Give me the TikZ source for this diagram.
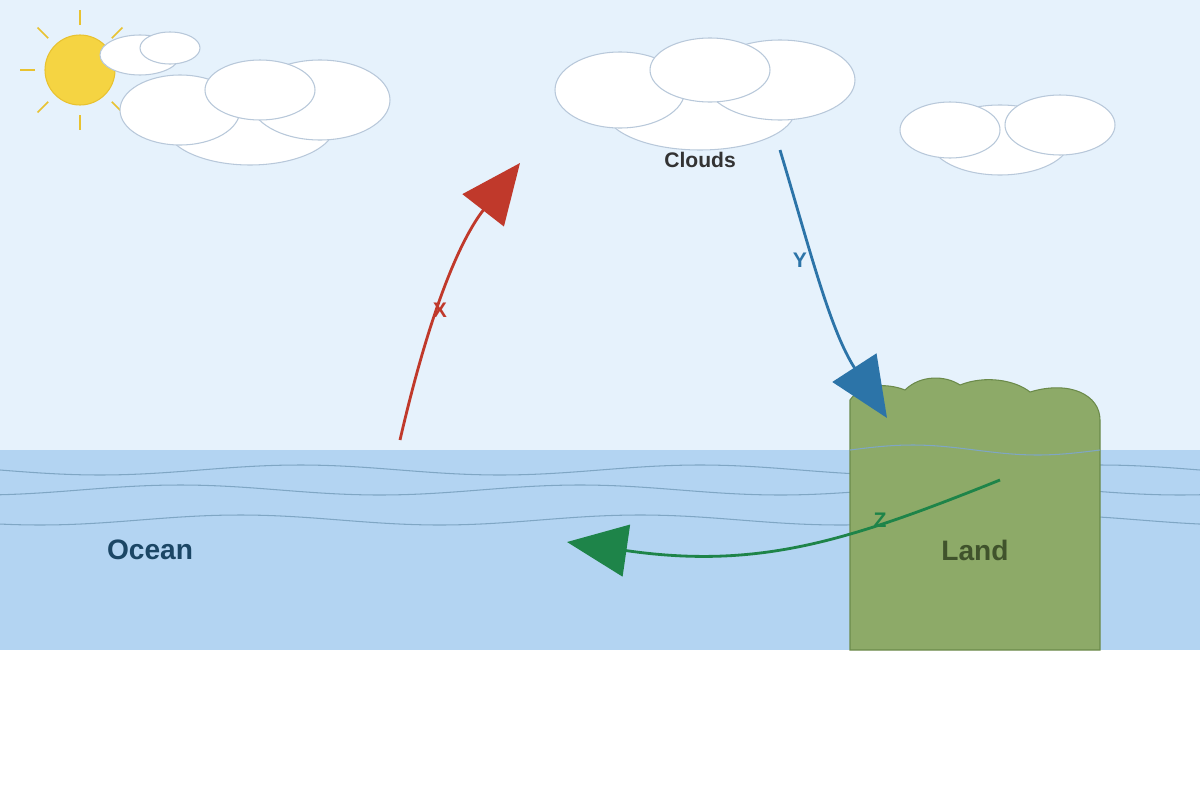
\documentclass[tikz,border=0pt]{standalone}
\usepackage{fontspec}
\setmainfont{Liberation Sans}
\usetikzlibrary{arrows.meta}
\definecolor{sky}{HTML}{E6F2FC}
\definecolor{sea}{HTML}{B3D4F2}
\definecolor{wave}{HTML}{7FA6C4}
\definecolor{sunfill}{HTML}{F5D442}
\definecolor{sunline}{HTML}{E8C230}
\definecolor{cloudline}{HTML}{B8C8DA}
\definecolor{landfill}{HTML}{8DAA68}
\definecolor{landline}{HTML}{6B8A4A}
\definecolor{xred}{HTML}{C0392B}
\definecolor{yblue}{HTML}{2C74A8}
\definecolor{zgreen}{HTML}{1E8449}
\tikzset{
  cloud/.style={fill=white,draw=cloudline,line width=1.5pt},
  flow/.style={line width=4pt,-{Triangle[length=3cm,width=2.6cm]}},
  lbl/.style={font=\bfseries\fontsize{40}{40}\selectfont},
  wavy/.style={draw=wave,line width=1.5pt}
}
\begin{document}
\begin{tikzpicture}[x=0.05cm,y=-0.05cm]
	\useasboundingbox (0,0) rectangle (1200,800);
	% background
	\fill[sky] (0,0) rectangle (1200,450);
	\fill[sea] (0,450) rectangle (1200,650);
	
	% waves
	\foreach \y/\s in {470/0,490/120,520/60}
	{
		\draw[wavy] plot[domain=0:1200,samples=120] (\x,{\y+5*sin((\x+\s)*0.9)});
	}
	
	% sun
	\foreach \a in {90,135,180,225,270,45,-45}
	{
		\draw[sunline,line width=2.5pt] ({80+45*cos(\a)},{70-45*sin(\a)}) -- ({80+60*cos(\a)},{70-60*sin(\a)});
	}
	\draw[fill=sunfill,draw=sunline,line width=1.5pt] (80,70) circle [radius=35];
	
	% clouds
	\draw[cloud] (140,55) ellipse [x radius=40,y radius=20];
	\draw[cloud] (170,48) ellipse [x radius=30,y radius=16];
	\draw[cloud] (250,125) ellipse [x radius=85,y radius=40];
	\draw[cloud] (180,110) ellipse [x radius=60,y radius=35];
	\draw[cloud] (320,100) ellipse [x radius=70,y radius=40];
	\draw[cloud] (260,90) ellipse [x radius=55,y radius=30];
	\draw[cloud] (700,110) ellipse [x radius=95,y radius=40];
	\draw[cloud] (620,90) ellipse [x radius=65,y radius=38];
	\draw[cloud] (780,80) ellipse [x radius=75,y radius=40];
	\draw[cloud] (710,70) ellipse [x radius=60,y radius=32];
	\draw[cloud] (1000,140) ellipse [x radius=70,y radius=35];
	\draw[cloud] (950,130) ellipse [x radius=50,y radius=28];
	\draw[cloud] (1060,125) ellipse [x radius=55,y radius=30];
	
	% land
	\draw[fill=landfill,draw=landline,line width=1.5pt] (850,650) -- (850,400)
		.. controls (860,385) and (885,382) .. (905,390)
		.. controls (920,375) and (945,375) .. (960,385)
		.. controls (985,375) and (1015,380) .. (1030,392)
		.. controls (1070,380) and (1100,395) .. (1100,420) -- (1100,650) -- cycle;
	\draw[wavy] plot[domain=850:1100,samples=40] (\x,{450-5*sin((\x-850)*1.44)});
	
	% labels
	\node[lbl,color=black!80,font=\bfseries\fontsize{30}{30}\selectfont] (clouds) at (700,160) {Clouds};
	\node[lbl,color=yblue!60!black] (ocean) at (150,550) {Ocean};
	\node[lbl,color=landline!60!black] (land) at (975,550) {Land};
	
	% flows
	\coordinate (xs) at (400,440);
	\coordinate (xe) at (520,163);
	\coordinate (ys) at (780,150);
	\coordinate (ye) at (887,418);
	\coordinate (zs) at (1000,480);
	\coordinate (ze) at (567,542);
	\draw[flow,xred] (xs) .. controls (430,310) and (460,240) .. (xe);
	\draw[flow,yblue] (ys) .. controls (810,250) and (830,330) .. (ye);
	\draw[flow,zgreen] (zs) .. controls (850,540) and (760,570) .. (ze);
	\node[lbl,xred,font=\bfseries\fontsize{30}{30}\selectfont] at (440,310) {X};
	\node[lbl,yblue,font=\bfseries\fontsize{30}{30}\selectfont] at (800,260) {Y};
	\node[lbl,zgreen,font=\bfseries\fontsize{30}{30}\selectfont] at (880,520) {Z};
\end{tikzpicture}
\end{document}
